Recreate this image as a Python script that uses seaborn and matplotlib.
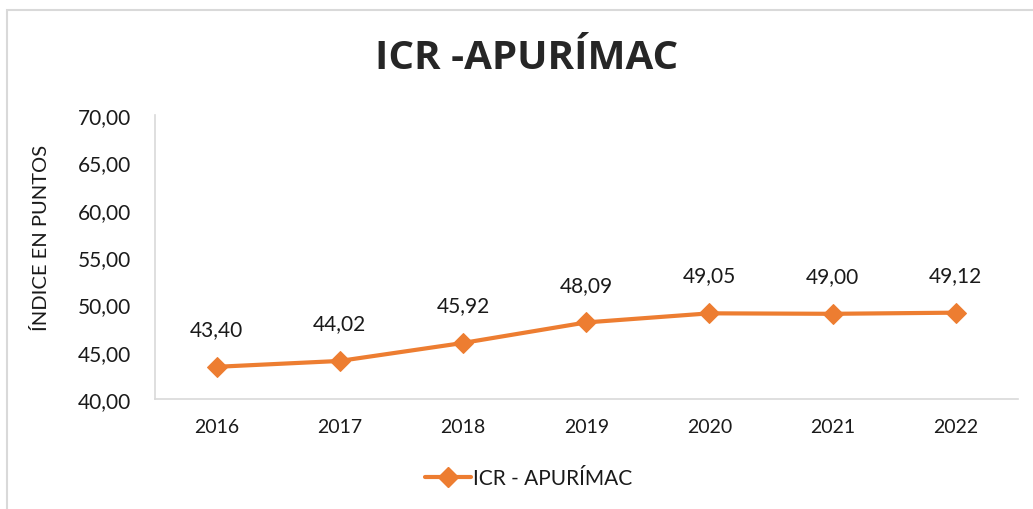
import pandas as pd
import numpy as np
import matplotlib
matplotlib.use("Agg")
import matplotlib.pyplot as plt
import seaborn as sns
from matplotlib.patches import Rectangle
from matplotlib.lines import Line2D

years = ["2016", "2017", "2018", "2019", "2020", "2021", "2022"]
icr = [43.40, 44.02, 45.92, 48.09, 49.05, 49.00, 49.12]
series_name = "ICR - APURÍMAC"
y_ticks = [40, 45, 50, 55, 60, 65, 70]

orange = "#ED7D31"
grey = "#D9D9D9"

sns.set_style("white")
plt.rcParams['font.family'] = ['Lato', 'DejaVu Sans']

data = pd.DataFrame({"Año": years, "ICR": icr})

fig = plt.figure(figsize=(10.33, 5.10), dpi=100)
ax = fig.add_axes([0.150, 0.2157, 0.835, 0.5568])

sns.lineplot(data=data, x="Año", y="ICR", ax=ax, color=orange, linewidth=3,
             marker="D", markersize=10, markeredgecolor=orange, sort=False)

ax.set_xlim(-0.5, len(years) - 0.5)
ax.set_ylim(40, 70)
ax.set_yticks(y_ticks)
ax.set_yticklabels([f"{v:.2f}".replace(".", ",") for v in y_ticks], fontsize=15,
                   color="#1a1a1a")
ax.set_xticks(range(len(years)))
ax.set_xticklabels(years, fontsize=14, color="#1a1a1a")
ax.tick_params(axis="both", length=0)
ax.tick_params(axis="x", pad=14)
ax.tick_params(axis="y", pad=17)

for i, v in enumerate(icr):
    ax.annotate(f"{v:.2f}".replace(".", ","), (i, v), xytext=(0, 20),
                textcoords="offset points", ha="center", va="bottom", fontsize=15,
                color="#1a1a1a")

ax.set_xlabel("")
ax.set_ylabel("ÍNDICE EN PUNTOS", fontsize=14.5, color="#1a1a1a")
ax.yaxis.set_label_coords(-0.122, 0.57)

sns.despine(ax=ax)
for s in ["left", "bottom"]:
    ax.spines[s].set_color(grey)
    ax.spines[s].set_linewidth(1.2)

fig.text(0.51, 0.886, "ICR -APURÍMAC", ha="center", va="center",
         fontsize=29, fontweight="bold", family=["Open Sans", "DejaVu Sans"])

handle = Line2D([], [], color=orange, linewidth=3, marker="D", markersize=10)
fig.legend([handle], [series_name], loc="center", bbox_to_anchor=(0.512, 0.06),
           frameon=False, fontsize=15, handlelength=2.2, handletextpad=0.1,
           labelcolor="#1a1a1a")

# outer chart frame (partly cut off at right and bottom)
fig.patches.append(Rectangle((7 / 1033, -0.2), 1.2, 1.2 - 11 / 510,
                             transform=fig.transFigure, fill=False,
                             edgecolor=grey, linewidth=1.5))

fig.savefig("out.png", dpi=100)
